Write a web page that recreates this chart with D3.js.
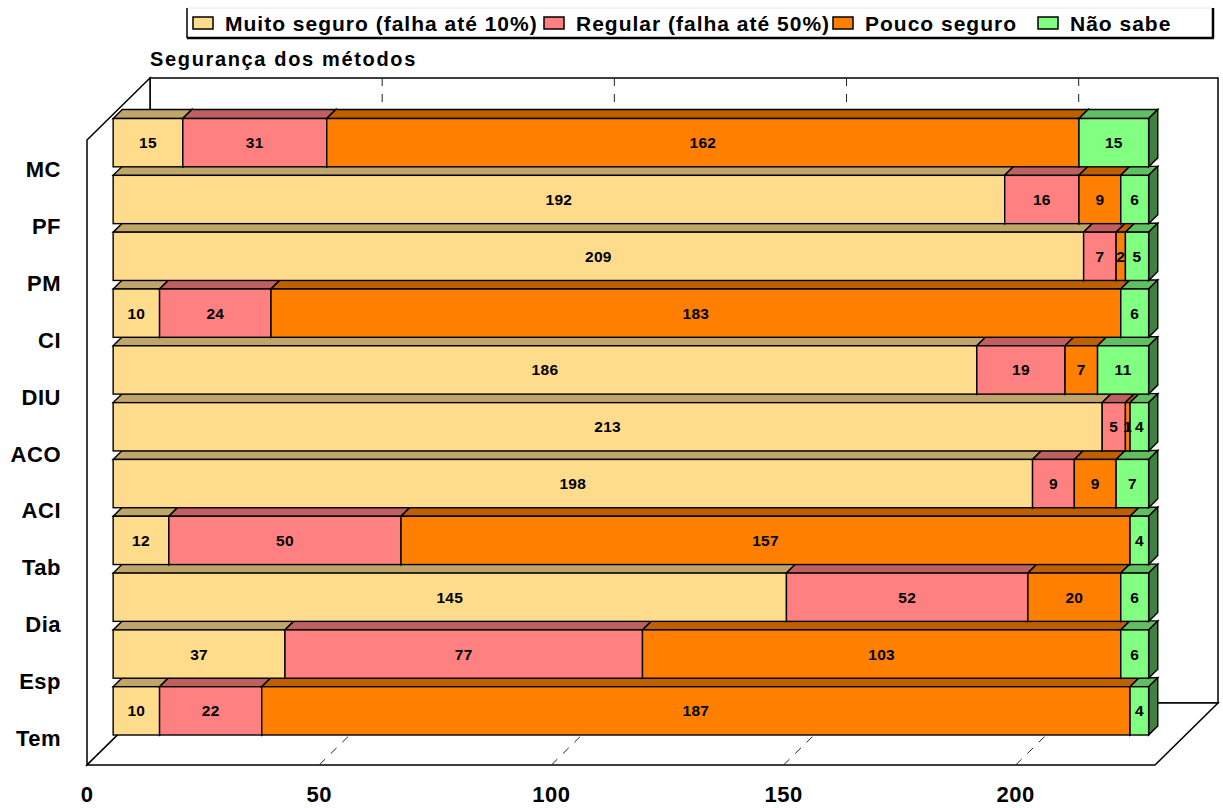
<!DOCTYPE html>
<html>
<head>
<meta charset="utf-8">
<script src="https://cdn.jsdelivr.net/npm/d3@7"></script>
<style>
  html, body { margin: 0; padding: 0; background: #fff; }
  svg { display: block; font-family: "Liberation Sans", Arial, sans-serif; font-weight: bold; }
</style>
</head>
<body>
<svg id="chart" width="1223" height="808"></svg>
<script>
// ---- data ----
const categories = ["MC", "PF", "PM", "CI", "DIU", "ACO", "ACI", "Tab", "Dia", "Esp", "Tem"];
const seriesNames = ["Muito seguro (falha até 10%)", "Regular (falha até 50%)", "Pouco seguro", "Não sabe"];
const muitoSeguro = [15, 192, 209, 10, 186, 213, 198, 12, 145, 37, 10];
const regular     = [31, 16, 7, 24, 19, 5, 9, 50, 52, 77, 22];
const poucoSeguro = [162, 9, 2, 183, 7, 1, 9, 157, 20, 103, 187];
const naoSabe     = [15, 6, 5, 6, 11, 4, 7, 4, 6, 6, 4];
const tickValues  = [0, 50, 100, 150, 200];
const chartTitle  = "Segurança dos métodos";

// ---- styling / layout ----
const seriesColors = ["#FFDC8C", "#FF8080", "#FF8000", "#80FF80"];
const legendX = [193, 544, 833, 1038];

const svg = d3.select("#chart");

// front plane of the 3D box
const frontLeft = 87, frontRight = 1155, frontTop = 140, frontBottom = 765;
const DX = 63, DY = -62;            // full depth offset of the box
const barF0 = 0.415, barF = 0.145;  // bar front position and thickness (depth fractions)

const x = d3.scaleLinear().domain([0, 230]).range([frontLeft, frontRight]);
const y = d3.scaleBand().domain(categories).range([frontTop, frontBottom])
  .paddingInner(0.15).paddingOuter(0.075);

const stackData = categories.map((c, i) => ({
  cat: c,
  values: [muitoSeguro[i], regular[i], poucoSeguro[i], naoSabe[i]]
}));

const shade = (c, k) => { const r = d3.rgb(c); return d3.rgb(r.r * k, r.g * k, r.b * k).formatHex(); };
const pts = a => a.map(p => p.join(",")).join(" ");

// ---- walls and floor ----
const walls = svg.append("g").attr("fill", "#fff").attr("stroke", "#000").attr("stroke-width", 1.5);
// back wall
walls.append("rect")
  .attr("x", frontLeft + DX).attr("y", frontTop + DY)
  .attr("width", frontRight - frontLeft).attr("height", frontBottom - frontTop);
// left wall
walls.append("polygon").attr("points", pts([
  [frontLeft, frontTop], [frontLeft + DX, frontTop + DY],
  [frontLeft + DX, frontBottom + DY], [frontLeft, frontBottom]
]));
// floor
walls.append("polygon").attr("points", pts([
  [frontLeft, frontBottom], [frontLeft + DX, frontBottom + DY],
  [frontRight + DX, frontBottom + DY], [frontRight, frontBottom]
]));

// gridlines on back wall and floor
const grid = svg.append("g").attr("stroke", "#222").attr("stroke-width", 1).attr("stroke-dasharray", "8,8");
tickValues.filter(v => v > 0).forEach(v => {
  grid.append("line")
    .attr("x1", x(v) + DX).attr("y1", frontTop + DY)
    .attr("x2", x(v) + DX).attr("y2", frontBottom + DY);
  grid.append("line")
    .attr("x1", x(v) + DX).attr("y1", frontBottom + DY)
    .attr("x2", x(v)).attr("y2", frontBottom);
});

// ---- 3D stacked bars (lowest row first so upper rows sit on top) ----
const bdx = DX * barF, bdy = DY * barF;
const barsG = svg.append("g").attr("stroke", "#000").attr("stroke-width", 1.4).attr("stroke-linejoin", "miter");
stackData.slice().reverse().forEach(row => {
  const yt = y(row.cat) + DY * barF0;
  const yb = yt + y.bandwidth();
  const offX = DX * barF0;
  let cum = 0;
  const g = barsG.append("g");
  row.values.forEach((v, si) => {
    const x0 = x(cum) + offX, x1 = x(cum + v) + offX;
    cum += v;
    const col = seriesColors[si];
    g.append("polygon").attr("fill", shade(col, 0.75)).attr("points", pts([
      [x0, yt], [x1, yt], [x1 + bdx, yt + bdy], [x0 + bdx, yt + bdy]
    ]));
    g.append("polygon").attr("fill", shade(col, 0.5)).attr("points", pts([
      [x1, yt], [x1 + bdx, yt + bdy], [x1 + bdx, yb + bdy], [x1, yb]
    ]));
    g.append("rect").attr("fill", col)
      .attr("x", x0).attr("y", yt).attr("width", x1 - x0).attr("height", yb - yt);
  });
  // value labels
  cum = 0;
  row.values.forEach(v => {
    const xc = (x(cum) + x(cum + v)) / 2 + offX;
    cum += v;
    g.append("text")
      .attr("x", xc).attr("y", (yt + yb) / 2 + 5.5)
      .attr("text-anchor", "middle").attr("stroke", "none").attr("fill", "#000")
      .attr("font-size", 15.5).attr("letter-spacing", 0.3)
      .text(v);
  });
});

// ---- category labels ----
svg.append("g").selectAll("text").data(categories).join("text")
  .attr("x", 61).attr("y", d => y(d) + y.bandwidth() / 2 + 9)
  .attr("text-anchor", "end").attr("font-size", 22).attr("letter-spacing", 0.5)
  .text(d => d);

// ---- value axis labels ----
svg.append("g").selectAll("text").data(tickValues).join("text")
  .attr("x", d => x(d)).attr("y", 802)
  .attr("text-anchor", "middle").attr("font-size", 22).attr("letter-spacing", 0.5)
  .text(d => d);

// ---- title ----
svg.append("text").attr("x", 150).attr("y", 66)
  .attr("font-size", 20).attr("letter-spacing", 1.65)
  .text(chartTitle);

// ---- legend ----
const lg = svg.append("g");
lg.append("line").attr("x1", 187).attr("y1", 8).attr("x2", 1213).attr("y2", 8).attr("stroke", "#e8e8e8").attr("stroke-width", 1);
lg.append("line").attr("x1", 187).attr("y1", 8).attr("x2", 187).attr("y2", 38).attr("stroke", "#000").attr("stroke-width", 1.5);
lg.append("line").attr("x1", 187).attr("y1", 38).attr("x2", 1214).attr("y2", 38).attr("stroke", "#000").attr("stroke-width", 2.5);
lg.append("line").attr("x1", 1213).attr("y1", 8).attr("x2", 1213).attr("y2", 38).attr("stroke", "#000").attr("stroke-width", 2.5);
seriesNames.forEach((name, i) => {
  lg.append("rect").attr("x", legendX[i]).attr("y", 17).attr("width", 20).attr("height", 12)
    .attr("fill", seriesColors[i]).attr("stroke", "#000").attr("stroke-width", 1.5);
  lg.append("text").attr("x", legendX[i] + 32).attr("y", 31)
    .attr("font-size", 21).attr("letter-spacing", 1.0)
    .text(name);
});
</script>
</body>
</html>
